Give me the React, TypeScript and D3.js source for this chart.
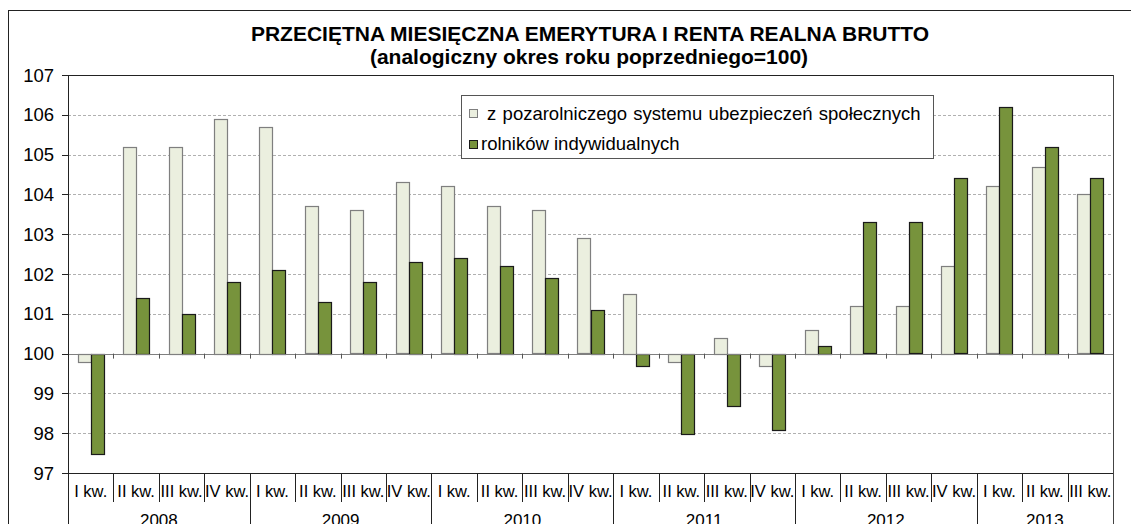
import React from "react";
import * as d3 from "d3";

const years = ["2008", "2009", "2010", "2011", "2012", "2013"];
const quarters = ["I kw.", "II kw.", "III kw.", "IV kw."];
// quarters per year (2013 only to III kw.)
const quartersPerYear = [4, 4, 4, 4, 4, 3];

const seriesNames = [
  "z pozarolniczego systemu ubezpieczeń społecznych",
  "rolników indywidualnych",
];

const pozarolniczy = [
  99.8, 105.2, 105.2, 105.9,
  105.7, 103.7, 103.6, 104.3,
  104.2, 103.7, 103.6, 102.9,
  101.5, 99.8, 100.4, 99.7,
  100.6, 101.2, 101.2, 102.2,
  104.2, 104.7, 104.0,
];
const rolnicy = [
  97.5, 101.4, 101.0, 101.8,
  102.1, 101.3, 101.8, 102.3,
  102.4, 102.2, 101.9, 101.1,
  99.7, 98.0, 98.7, 98.1,
  100.2, 103.3, 103.3, 104.4,
  106.2, 105.2, 104.4,
];
const yTicks = [97, 98, 99, 100, 101, 102, 103, 104, 105, 106, 107];

const colors = { light: "#ebefdf", lightStroke: "#7f7f7f", green: "#77933c", greenStroke: "#1a1a1a" };
const font = "'Liberation Sans', Arial, sans-serif";

const plot = { left: 68, right: 1113, top: 75, bottom: 473 };

const App = () => {
  const cats: { q: string; y: number }[] = [];
  quartersPerYear.forEach((n, yi) => {
    for (let i = 0; i < n; i++) cats.push({ q: quarters[i], y: yi });
  });
  const idx = cats.map((_, i) => i);

  const x = d3
    .scaleBand<number>()
    .domain(idx)
    .range([plot.left, plot.right])
    .paddingInner(0.427)
    .paddingOuter(0.2135);
  const step = x.step();
  const catStart = (i: number) => plot.left + i * step;

  const sub = d3.scaleBand<number>().domain([0, 1]).range([0, x.bandwidth()]);
  const y = d3.scaleLinear().domain([97, 107]).range([plot.bottom, plot.top]);
  const y0 = y(100);

  const series = [
    { values: pozarolniczy, fill: colors.light, stroke: colors.lightStroke },
    { values: rolnicy, fill: colors.green, stroke: colors.greenStroke },
  ];

  // year group boundaries
  const yearStarts: number[] = [];
  let acc = 0;
  quartersPerYear.forEach((n) => {
    yearStarts.push(acc);
    acc += n;
  });

  return (
    <svg width={1131} height={524} style={{ position: "absolute", left: 0, top: 0, fontFamily: font }}>
      <rect x={0} y={0} width={1131} height={524} fill="#fff" />
      <rect x={8.5} y={10.5} width={1140} height={540} fill="none" stroke="#222" strokeWidth={1} />

      <text x={590} y={41} textAnchor="middle" fontSize={21} fontWeight="bold">
        PRZECIĘTNA MIESIĘCZNA EMERYTURA I RENTA REALNA BRUTTO
      </text>
      <text x={589} y={64} textAnchor="middle" fontSize={21} fontWeight="bold">
        (analogiczny okres roku poprzedniego=100)
      </text>

      {/* gridlines */}
      {yTicks.filter((t) => t !== 97 && t !== 107 && t !== 100).map((t) => (
        <line key={t} x1={plot.left} x2={plot.right} y1={Math.round(y(t)) + 0.5} y2={Math.round(y(t)) + 0.5}
          stroke="#b0b0b0" strokeDasharray="3,2" />
      ))}

      {/* y axis ticks and labels */}
      {yTicks.map((t) => (
        <g key={t}>
          <line x1={plot.left - 6} x2={plot.left} y1={Math.round(y(t)) + 0.5} y2={Math.round(y(t)) + 0.5} stroke="#222" />
          <text x={54} y={y(t) + 6.5} textAnchor="end" fontSize={18.5}>{t}</text>
        </g>
      ))}

      {/* bars */}
      {series.map((s, si) =>
        s.values.map((v, i) => {
          const bx = (x(i) as number) + (sub(si) as number);
          const by = Math.min(y(v), y0);
          const bh = Math.abs(y(v) - y0);
          return (
            <rect key={`${si}-${i}`} x={Math.round(bx) + 0.5} y={Math.round(by) + 0.5}
              width={Math.round(sub.bandwidth())} height={Math.max(0, Math.round(bh))}
              fill={s.fill} stroke={s.stroke} strokeWidth={1.2} />
          );
        })
      )}

      {/* zero (100) axis line and ticks */}
      <line x1={plot.left} x2={plot.right} y1={Math.round(y0) + 0.5} y2={Math.round(y0) + 0.5} stroke="#7f7f7f" />
      {idx.slice(1).map((i) => (
        <line key={i} x1={Math.round(catStart(i)) + 0.5} x2={Math.round(catStart(i)) + 0.5}
          y1={y0} y2={y0 + 5} stroke="#555" />
      ))}

      {/* plot border */}
      <line x1={plot.left} x2={plot.right} y1={plot.top + 0.5} y2={plot.top + 0.5} stroke="#222" />
      <line x1={plot.left} x2={plot.right} y1={plot.bottom + 0.5} y2={plot.bottom + 0.5} stroke="#222" />
      <line x1={plot.left + 0.5} x2={plot.left + 0.5} y1={plot.top} y2={524} stroke="#222" />
      <line x1={plot.right + 0.5} x2={plot.right + 0.5} y1={plot.top} y2={524} stroke="#444" />

      {/* category table */}
      {idx.slice(1).map((i) => {
        const isYear = yearStarts.includes(i);
        return (
          <line key={`s${i}`} x1={Math.round(catStart(i)) + 0.5} x2={Math.round(catStart(i)) + 0.5}
            y1={plot.bottom} y2={isYear ? 524 : 502} stroke="#222" />
        );
      })}
      {cats.map((c, i) => (
        <text key={`q${i}`} x={catStart(i) + step / 2} y={497} textAnchor="middle" fontSize={16.5}>{c.q}</text>
      ))}
      {years.map((yr, yi) => {
        const a = catStart(yearStarts[yi]);
        const b = catStart(yearStarts[yi] + quartersPerYear[yi]);
        return (
          <text key={yr} x={(a + b) / 2} y={526} textAnchor="middle" fontSize={17}>{yr}</text>
        );
      })}

      {/* legend */}
      <rect x={461.5} y={95.5} width={472} height={63} fill="#fff" stroke="#555" />
      {seriesNames.map((n, i) => (
        <g key={n}>
          <rect x={469.5} y={109.5 + i * 31} width={8} height={8} fill={series[i].fill} stroke={series[i].stroke} />
          <text x={i === 0 ? 487 : 481} y={120 + i * 30} fontSize={18.5} wordSpacing={i === 0 ? 1.2 : 0}>{n}</text>
        </g>
      ))}
    </svg>
  );
};

export default App;
